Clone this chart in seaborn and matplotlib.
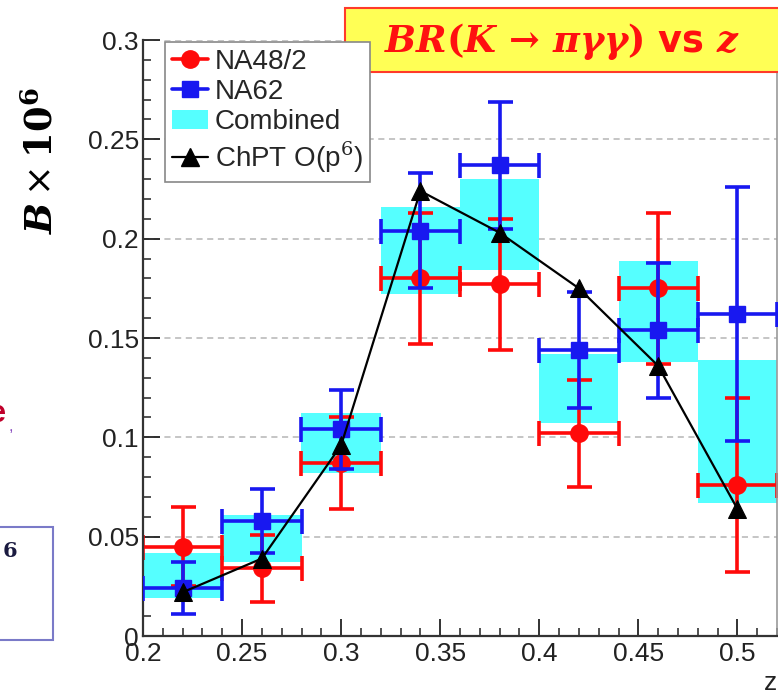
import numpy as np
import pandas as pd
import matplotlib
matplotlib.use("Agg")
import matplotlib.pyplot as plt
import seaborn as sns
from matplotlib.lines import Line2D
from matplotlib.patches import Patch, Rectangle
from matplotlib.ticker import FixedLocator, MultipleLocator, FormatStrFormatter

# Bin centres in z (bins of width 0.04)
z_bins = [0.22, 0.26, 0.30, 0.34, 0.38, 0.42, 0.46, 0.50]
bin_halfwidth = 0.02

# NA48/2 measurement
na48_br = [0.045, 0.034, 0.087, 0.180, 0.177, 0.102, 0.175, 0.076]
na48_err = [0.020, 0.017, 0.023, 0.033, 0.033, 0.027, 0.038, 0.044]

# NA62 measurement
na62_br = [0.024, 0.058, 0.104, 0.204, 0.237, 0.144, 0.154, 0.162]
na62_err = [0.013, 0.016, 0.020, 0.029, 0.032, 0.029, 0.034, 0.064]

# Combined result (centre and half-height of the band)
comb_br = [0.0305, 0.049, 0.097, 0.194, 0.207, 0.1245, 0.1635, 0.103]
comb_err = [0.0115, 0.012, 0.015, 0.022, 0.023, 0.0175, 0.0255, 0.036]

# ChPT O(p^6) prediction
chpt_br = [0.022, 0.039, 0.096, 0.224, 0.203, 0.175, 0.136, 0.064]

x_ticks = [0.2, 0.25, 0.3, 0.35, 0.4, 0.45, 0.5]
y_ticks = [0, 0.05, 0.1, 0.15, 0.2, 0.25, 0.3]

sns.set_style("ticks")
plt.rcParams["font.family"] = ["Liberation Sans", "DejaVu Sans"]
plt.rcParams["mathtext.fontset"] = "dejavuserif"

RED = "#ff0a0a"
BLUE = "#1818f0"
CYAN = "#55ffff"

W, H = 778, 692
fig = plt.figure(figsize=(W / 100, H / 100), dpi=100)
ax = fig.add_axes([143 / W, 56 / H, 634 / W, 596 / H])

# Combined band as boxes spanning each bin
z = np.array(z_bins)
cb = np.array(comb_br)
ce = np.array(comb_err)
ax.bar(z, 2 * ce, bottom=cb - ce, width=2 * bin_halfwidth, color=CYAN,
       edgecolor="none", linewidth=0, zorder=1)

# NA48/2 points
ax.errorbar(z_bins, na48_br, xerr=bin_halfwidth, yerr=na48_err, fmt="o",
            color=RED, markersize=12.5, elinewidth=2.6, capsize=9, capthick=2.6,
            zorder=2)
# NA62 points
ax.errorbar(z_bins, na62_br, xerr=bin_halfwidth, yerr=na62_err, fmt="s",
            color=BLUE, markersize=11.5, elinewidth=2.6, capsize=9, capthick=2.6,
            zorder=3)

# ChPT prediction
df_chpt = pd.DataFrame({"z": z_bins, "br": chpt_br})
sns.lineplot(data=df_chpt, x="z", y="br", ax=ax, color="black", linewidth=1.6,
             marker="^", markersize=13, markeredgecolor="black",
             markerfacecolor="black", sort=False, zorder=4)

ax.set_xlim(0.2, 0.52)
ax.set_ylim(0, 0.3)
ax.xaxis.set_major_locator(FixedLocator(x_ticks))
ax.yaxis.set_major_locator(FixedLocator(y_ticks))
ax.xaxis.set_major_formatter(FormatStrFormatter("%g"))
ax.yaxis.set_major_formatter(FormatStrFormatter("%g"))
ax.xaxis.set_minor_locator(MultipleLocator(0.01))
ax.yaxis.set_minor_locator(MultipleLocator(0.01))
ax.tick_params(axis="both", which="major", direction="in", length=12, width=1.3,
               labelsize=19, colors="#222222", pad=3)
ax.tick_params(axis="both", which="minor", direction="in", length=6, width=1.1,
               colors="#222222")
ax.tick_params(axis="x", pad=4)
ax.yaxis.grid(True, which="major", linestyle=(0, (4, 3)), color="#b5b5b5",
              linewidth=1.1, zorder=0)
ax.set_axisbelow(True)

for side in ["left", "bottom"]:
    ax.spines[side].set_color("#333333")
    ax.spines[side].set_linewidth(1.6)
ax.spines["top"].set_visible(False)
ax.spines["right"].set_color("#999999")
ax.spines["right"].set_linewidth(1.2)

ax.set_ylabel("")
ax.set_xlabel("z", loc="right", fontsize=19, color="#222222", labelpad=4)

# Legend
handles = [
    Line2D([0], [0], color=RED, lw=2.6, marker="o", markersize=12.5),
    Line2D([0], [0], color=BLUE, lw=2.6, marker="s", markersize=11.5),
    Patch(facecolor=CYAN, edgecolor="none"),
    Line2D([0], [0], color="black", lw=1.6, marker="^", markersize=13),
]
labels = ["NA48/2", "NA62", "Combined", "ChPT O(p$^{6}$)"]
leg = fig.legend(handles, labels, loc="upper left",
                 bbox_to_anchor=(165 / W, 1 - 42 / H), fontsize=20,
                 frameon=True, fancybox=False, framealpha=1, edgecolor="#888888",
                 handlelength=1.3, handletextpad=0.25, labelspacing=0.15,
                 borderpad=0.25, borderaxespad=0)
leg.get_frame().set_linewidth(1.2)

# Y-axis title
fig.text(42 / W, 1 - 161 / H, r"$\mathbfit{B}\times\mathbf{10^{6}}$",
         rotation=90, ha="center", va="center", fontsize=26.5, color="black")

# Title box
fig.add_artist(Rectangle((345 / W, 1 - 72 / H), (440) / W, 64 / H,
                         transform=fig.transFigure, facecolor="#ffff55",
                         edgecolor="#ff3a2a", linewidth=1.5, zorder=5))
fig.text(562 / W, 1 - 41 / H,
         r"$\mathbfit{BR}\mathbf{(}\mathbfit{K}\,\mathbf{\rightarrow}\,\mathbfit{\pi\gamma\gamma}\mathbf{)}$ vs $\mathbfit{z}$",
         ha="center", va="center", fontsize=26.5, color="#ff1010",
         family="DejaVu Sans", weight="bold", zorder=6)

# Neighbouring slide elements on the left edge
fig.add_artist(Rectangle((-10 / W, 1 - 640 / H), 63 / W, 113 / H,
                         transform=fig.transFigure, facecolor="none",
                         edgecolor="#7a7ac8", linewidth=1.5))
fig.text(10 / W, 1 - 551 / H, "6", ha="center", va="center", fontsize=15,
         family="DejaVu Serif", weight="bold", color="#1a1a40")
fig.text(6 / W, 1 - 414 / H, "e", ha="right", va="center", fontsize=22,
         weight="bold", color="#c0002a")
fig.text(9 / W, 1 - 426 / H, ",", ha="left", va="center", fontsize=12,
         color="#8a4fc0")

fig.savefig("out.png", dpi=100)
